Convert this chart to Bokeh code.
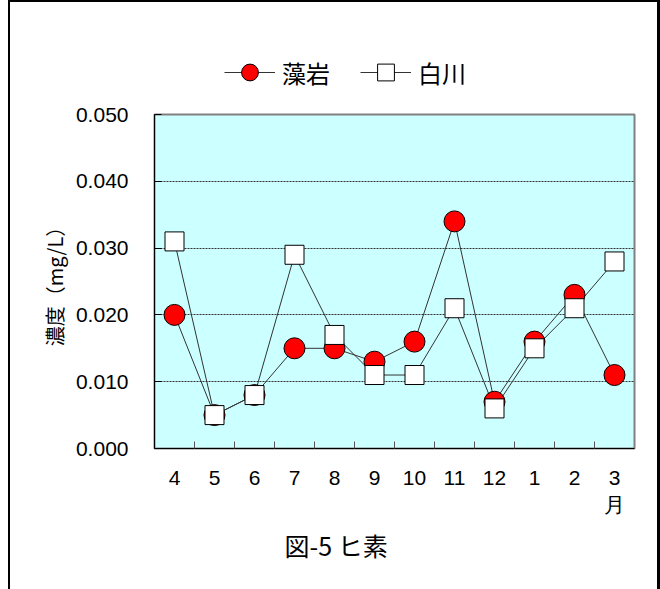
from bokeh.plotting import figure
from bokeh.layouts import column
from bokeh.models import Range1d, FixedTicker, NumeralTickFormatter, Legend, LegendItem
from bokeh.embed import file_html
from bokeh.resources import INLINE

months = ["4", "5", "6", "7", "8", "9", "10", "11", "12", "1", "2", "3"]
moiwa = [0.020, 0.005, 0.008, 0.015, 0.015, 0.013, 0.016, 0.034, 0.007, 0.016, 0.023, 0.011]
shirakawa = [0.031, 0.005, 0.008, 0.029, 0.017, 0.011, 0.011, 0.021, 0.006, 0.015, 0.021, 0.028]
y_ticks = [0.0, 0.01, 0.02, 0.03, 0.04, 0.05]
series_names = ["藻岩", "白川"]
y_label = "濃度（mg/L）"
month_unit = "月"
chart_title = "図-5 ヒ素"

xs = list(range(1, len(months) + 1))
bounds = [x + 0.5 for x in xs[:-1]]
tick_text = list(months)
tick_text[-1] = months[-1] + "\n" + month_unit

JP = "Noto Sans CJK JP"
NUM = "Liberation Sans"
LINE = "#333333"
circle_style = dict(marker="circle", fill_color="#FF0000", line_color="black", line_width=1)
square_style = dict(marker="square", fill_color="white", line_color="black", line_width=1)

# ---- legend strip: its own small figure above the chart (series drawn out of view,
#      only their legend swatches show) ----
leg = figure(width=647, height=100, output_backend="svg", toolbar_location=None,
             x_range=Range1d(0.5, len(months) + 0.5), y_range=Range1d(-2, -1),
             x_axis_location=None, y_axis_location=None, min_border=0)
leg.grid.visible = False
leg.outline_line_color = None
leg.background_fill_color = "white"
leg.border_fill_color = "white"
pl1 = leg.line(xs, moiwa, line_color=LINE, line_width=1)
pc1 = leg.scatter(xs, moiwa, size=17, **circle_style)
pl2 = leg.line(xs, shirakawa, line_color=LINE, line_width=1)
ps2 = leg.scatter(xs, shirakawa, size=17, **square_style)
legend = Legend(items=[LegendItem(label=series_names[0], renderers=[pl1, pc1]),
                       LegendItem(label=series_names[1], renderers=[pl2, ps2])],
                orientation="horizontal", location=(70, 9),
                glyph_width=51, glyph_height=42, label_standoff=7, spacing=30,
                padding=0, margin=0, background_fill_alpha=0, border_line_alpha=0,
                label_text_font=JP, label_text_font_size="24px", label_text_color="black")
leg.add_layout(legend, "center")

# ---- main chart ----
p = figure(width=647, height=487, output_backend="svg", toolbar_location=None,
           x_range=Range1d(0.5, len(months) + 0.5), y_range=Range1d(y_ticks[0], y_ticks[-1]),
           min_border_left=144, min_border_right=23, min_border_top=12, min_border_bottom=141,
           title=chart_title, title_location="below")
p.title.align = "left"
p.title.offset = 130
p.title.standoff = 13
p.title.vertical_align = "middle"
p.title.text_font = JP
p.title.text_font_size = "25px"
p.title.text_font_style = "normal"
p.title.text_color = "black"

p.background_fill_color = "#CCFFFF"
p.border_fill_color = "white"
p.outline_line_color = "#808080"
p.outline_line_width = 2

p.line(xs, moiwa, line_color=LINE, line_width=1)
p.line(xs, shirakawa, line_color=LINE, line_width=1)
p.scatter(xs, moiwa, size=21, **circle_style)
p.scatter(xs, shirakawa, size=19, **square_style)

p.xaxis.ticker = FixedTicker(ticks=xs, minor_ticks=bounds)
p.xaxis.major_label_overrides = {x: t for x, t in zip(xs, tick_text)}
p.xaxis.major_tick_in = 0
p.xaxis.major_tick_out = 0
p.xaxis.minor_tick_in = 7
p.xaxis.minor_tick_out = 0
p.xaxis.minor_tick_line_color = "#555555"
p.xaxis.axis_line_color = "black"
p.xaxis.major_label_text_font = NUM
p.xaxis.major_label_text_font_size = "21px"
p.xaxis.major_label_text_color = "black"
p.xaxis.major_label_standoff = 17

p.yaxis.ticker = FixedTicker(ticks=y_ticks)
p.yaxis.formatter = NumeralTickFormatter(format="0.000")
p.yaxis.major_tick_in = 7
p.yaxis.major_tick_out = 0
p.yaxis.minor_tick_line_color = None
p.yaxis.axis_line_color = "black"
p.yaxis.major_label_text_font = NUM
p.yaxis.major_label_text_font_size = "21px"
p.yaxis.major_label_text_color = "black"
p.yaxis.major_label_standoff = 26
p.yaxis.axis_label = y_label
p.yaxis.axis_label_text_font = JP
p.yaxis.axis_label_text_font_size = "20px"
p.yaxis.axis_label_text_font_style = "normal"
p.yaxis.axis_label_text_color = "black"
p.yaxis.axis_label_standoff = 4

p.xgrid.visible = False
p.ygrid.ticker = FixedTicker(ticks=y_ticks[1:-1])
p.ygrid.grid_line_color = LINE
p.ygrid.grid_line_width = 1
p.ygrid.grid_line_dash = "2 1"

page = column(leg, p, spacing=0)
page.styles = {"border-left": "2px solid black", "border-right": "3px solid black",
               "border-top": "2px solid black", "margin-left": "8px"}

open("out.html", "w").write(file_html(page, INLINE))
